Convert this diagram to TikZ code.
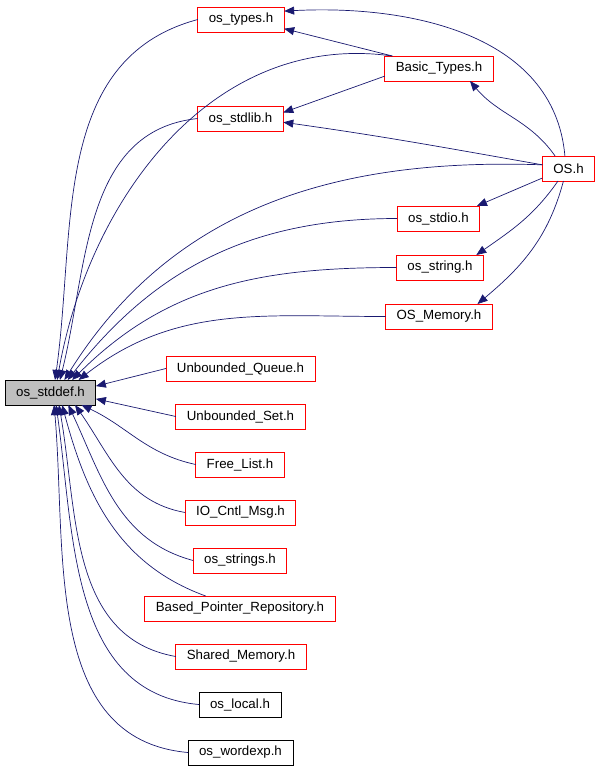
\documentclass[tikz,border=0pt]{standalone}
\usepackage{fontspec}
\setmainfont{Liberation Sans}
\usetikzlibrary{arrows.meta}
\definecolor{edgeblue}{HTML}{191970}

\begin{document}
\begin{tikzpicture}
[x=1pt,y=-1pt,every node/.style={draw=red,line width=0.8pt,inner xsep=11pt,inner ysep=0pt,minimum height=25pt,outer sep=0pt,font=\fontsize{13.3}{16}\selectfont},
 edge/.style={draw=edgeblue,line width=0.7pt,-{Triangle[length=10pt,width=8pt]}}]
\useasboundingbox (0,0) rectangle (600,769);
\node[fill=black!25,draw=black] (sd) at (50.5,392.5) {os\_stddef.h};
\node (ot) at (241,19.5) {os\_types.h};
\node (bt) at (439,68.5) {Basic\_Types.h};
\node (sl) at (240.5,118.5) {os\_stdlib.h};
\node (os) at (568.5,168.5) {OS.h};
\node (si) at (438.5,218.5) {os\_stdio.h};
\node (sg) at (440,267.5) {os\_string.h};
\node (om) at (439,316.5) {OS\_Memory.h};
\node (uq) at (240.5,368.5) {Unbounded\_Queue.h};
\node (us) at (240.5,416.5) {Unbounded\_Set.h};
\node (fl) at (240,464.5) {Free\_List.h};
\node (io) at (240.5,512.5) {IO\_Cntl\_Msg.h};
\node (ss) at (240,560.5) {os\_strings.h};
\node (bp) at (240,608.5) {Based\_Pointer\_Repository.h};
\node (sm) at (241,656.5) {Shared\_Memory.h};
\node[draw=black] (lo) at (240,704.5) {os\_local.h};
\node[draw=black] (we) at (240.5,752.5) {os\_wordexp.h};
% curved edges
\foreach \from/\to/\o/\i in {ot.west/sd.70/195/82, bt.165/sd.62/172/80, sl.west/sd.53/186/76,
  os.172/sd.42/178/58, si.west/sd.36/180/52, sg.west/sd.30/180/45, om.west/sd.24/180/38,
  fl.west/sd.338/168/335, io.west/sd.333/170/305, ss.west/sd.325/165/295, bp.160/sd.313/160/285,
  sm.west/sd.304/170/280, lo.west/sd.294/175/278, we.west/sd.286/175/275,
  os.106/ot.11/95/3, os.137/bt.338/125/310, os.172/sl.355/170/-8, os.230/sg.19/235/35, os.248/om.18/255/40}
  \draw[edge] (\from) to[out=\o,in=\i] (\to);
% straight edges
\foreach \from/\to in {bt.165/ot.348, bt.188/sl.8, os.200/si.18, uq.west/sd.8, us.west/sd.352}
  \draw[edge] (\from) -- (\to);
\end{tikzpicture}
\end{document}
